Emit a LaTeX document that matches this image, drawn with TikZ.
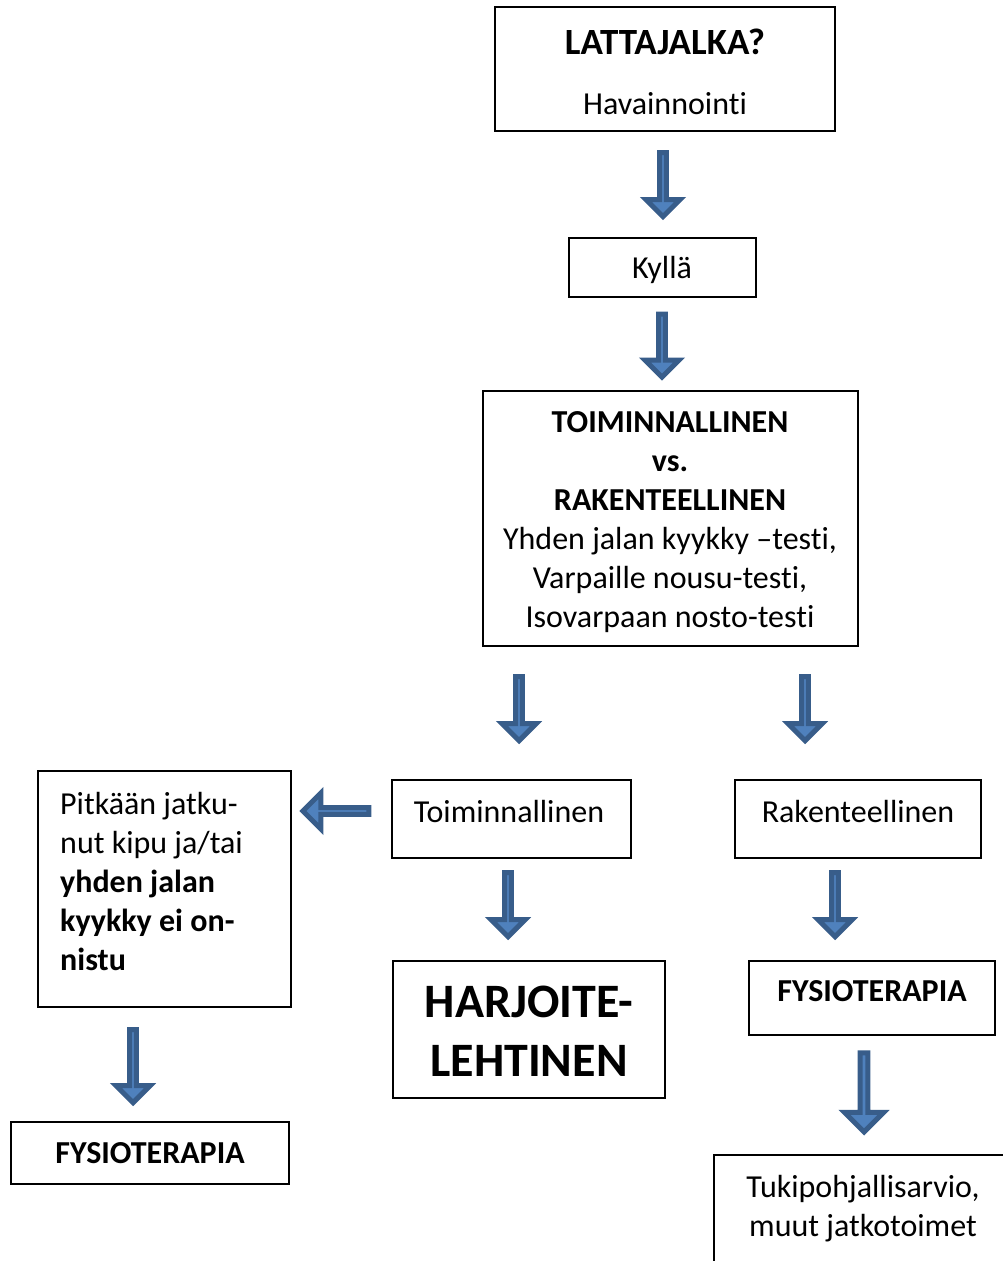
\documentclass[tikz,border=0pt]{standalone}
\usepackage{fontspec}
\setmainfont{Carlito}[Ligatures=NoCommon]
\usetikzlibrary{shapes.arrows}

\definecolor{arrowfill}{HTML}{4F81BD}
\definecolor{arrowline}{HTML}{385D8A}

\tikzset{
  box/.style={draw, line width=1.3pt, inner sep=0pt},
  txt/.style={inner sep=0pt, align=center, font=\fontsize{32}{39}\selectfont},
  btxt/.style={txt, font=\fontsize{32}{39}\selectfont\bfseries},
  bigarrow/.style={single arrow, draw=arrowline, fill=arrowfill, line width=5pt,
    inner sep=0pt, minimum width=34pt, single arrow head extend=10pt, minimum height=64pt},
  downarrow/.style={bigarrow, shape border rotate=270},
  westarrow/.style={bigarrow, shape border rotate=180},
}

\begin{document}
\begin{tikzpicture}[x=1pt,y=-1pt]
\useasboundingbox (0,0) rectangle (1003,1261);
\clip (0,0) rectangle (1003,1261);

% boxes
\node[box, minimum width=340, minimum height=124] (start) at (665,69) {};
\node[txt, font=\fontsize{37}{44}\selectfont\bfseries] (startA) at (665,42) {LATTAJALKA?};
\node[txt] (startB) at (665,104) {Havainnointi};

\node[box, minimum width=187, minimum height=59] (kylla) at (662.5,267.5) {};
\node[txt] (kyllaT) at (662,270) {Kyllä};

\node[box, minimum width=375, minimum height=255] (testit) at (670.5,518.5) {};
\node[txt] (testitT) at (670,522) {\textbf{TOIMINNALLINEN}\\\textbf{vs.}\\\textbf{RAKENTEELLINEN}\\
  Yhden jalan kyykky –testi,\\Varpaille nousu-testi,\\Isovarpaan nosto-testi};

\node[box, minimum width=239, minimum height=78] (toim) at (511.5,819) {};
\node[txt] (toimT) at (509,811) {Toiminnallinen};
\node[box, minimum width=246, minimum height=78] (rak) at (858,819) {};
\node[txt] (rakT) at (858,811) {Rakenteellinen};

\node[box, minimum width=253, minimum height=236] (kipu) at (164.5,889) {};
\node[txt, anchor=west, align=left] (kipuT) at (60,881) {Pitkään jatku-\\nut kipu ja/tai\\
  \textbf{yhden jalan}\\\textbf{kyykky ei on-}\\\textbf{nistu}};

\node[box, minimum width=272, minimum height=137] (harj) at (529,1029.5) {};
\node[txt, font=\fontsize{48}{59}\selectfont\bfseries] (harjT) at (529,1031) {HARJOITE-\\LEHTINEN};

\node[box, minimum width=246, minimum height=74] (fysR) at (872,998) {};
\node[btxt] (fysRT) at (872,991) {FYSIOTERAPIA};
\node[box, minimum width=278, minimum height=62] (fysL) at (150,1153) {};
\node[btxt] (fysLT) at (150,1153) {FYSIOTERAPIA};

\node[box, minimum width=300, minimum height=140] (tuki) at (864,1225) {};
\node[txt] (tukiT) at (863,1209) {Tukipohjallisarvio,\\muut jatkotoimet};

% arrows
\node[downarrow] (a1) at (663,183) {};
\node[downarrow, minimum height=63] (a2) at (662,344) {};
\node[downarrow] (a3) at (519,707) {};
\node[downarrow] (a4) at (805,707) {};
\node[downarrow] (a5) at (508,903) {};
\node[downarrow] (a6) at (835,903) {};
\node[downarrow, minimum height=73] (a7) at (133,1064.5) {};
\node[downarrow, minimum height=79, minimum width=39] (a8) at (864,1090.5) {};
\node[westarrow, minimum height=66, minimum width=36, single arrow head extend=11] (a9) at (337.5,811) {};
\end{tikzpicture}
\end{document}
